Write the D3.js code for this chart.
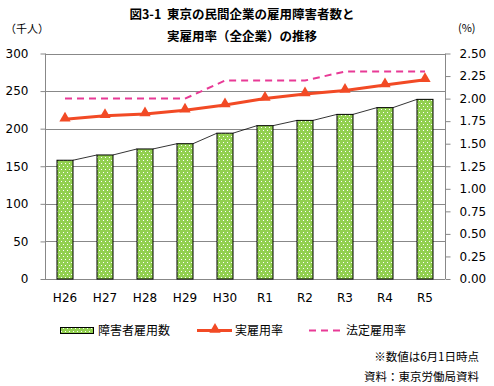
<!DOCTYPE html>
<html><head><meta charset="utf-8">
<script src="https://cdn.jsdelivr.net/npm/d3@7"></script>
<style>
body{margin:0;background:#fff;}
svg{display:block;}
text{font-family:"DejaVu Sans",Verdana,sans-serif;fill:#000;}
.jp{font-family:"Noto Sans CJK JP","Noto Sans",sans-serif;white-space:pre;}
</style></head><body>
<svg id="c" width="494" height="386"></svg>
<script>
const categories = ["H26","H27","H28","H29","H30","R1","R2","R3","R4","R5"];
const employed = [158,165,173,180,194,204,211,219,228,239];
const actualRate = [1.77,1.81,1.83,1.87,1.93,2.00,2.05,2.09,2.15,2.21];
const legalRate = [2.0,2.0,2.0,2.0,2.2,2.2,2.2,2.3,2.3,2.3];
const leftTicks = [0,50,100,150,200,250,300];
const rightTicks = [0,0.25,0.5,0.75,1.0,1.25,1.5,1.75,2.0,2.25,2.5];

const svg = d3.select("#c");
const L=45,R=445,T=53.5,B=279;
const x = d3.scaleBand().domain(categories).range([L,R]);
const yL = d3.scaleLinear().domain([0,300]).range([B,T]);
const yR = d3.scaleLinear().domain([0,2.5]).range([B,T]);

const defs = svg.append("defs");
const pat = defs.append("pattern").attr("id","dots").attr("patternUnits","userSpaceOnUse")
  .attr("width",4).attr("height",6);
pat.append("rect").attr("width",4).attr("height",6).attr("fill","#92D050");
pat.append("rect").attr("x",1).attr("y",1).attr("width",1).attr("height",1).attr("fill","#fff");
pat.append("rect").attr("x",3).attr("y",4).attr("width",1).attr("height",1).attr("fill","#fff");

// gridlines
svg.append("g").selectAll("line").data(leftTicks).join("line")
  .attr("x1",L).attr("x2",R).attr("y1",d=>Math.round(yL(d))+0.5).attr("y2",d=>Math.round(yL(d))+0.5)
  .attr("stroke","#888").attr("stroke-width",1);

// axes
const gl = svg.append("g").attr("transform",`translate(${L+0.5},0)`)
  .call(d3.axisLeft(yL).tickValues(leftTicks).tickSize(5).tickPadding(12).tickFormat(d3.format("d")));
const gr = svg.append("g").attr("transform",`translate(${R+0.5},0)`)
  .call(d3.axisRight(yR).tickValues(rightTicks).tickSize(5).tickPadding(9).tickFormat(d3.format(".2f")));
[gl,gr].forEach(g=>{
  g.select(".domain").attr("stroke","#888").attr("d",`M0,${T}V${B}`);
  g.selectAll(".tick line").attr("stroke","#888");
  g.selectAll(".tick text").attr("font-size","12px").attr("font-family","DejaVu Sans, Verdana, sans-serif").attr("fill","#000");
});
const gx = svg.append("g").attr("transform",`translate(0,${B})`)
  .call(d3.axisBottom(x).tickSize(0).tickPadding(14));
gx.select(".domain").remove();
gx.selectAll(".tick text").attr("font-size","12px").attr("font-family","DejaVu Sans, Verdana, sans-serif").attr("fill","#000");

// bars
const bw = 16;
const bx = d => x(d)+x.bandwidth()/2-bw/2;
svg.append("g").selectAll("rect").data(categories).join("rect")
  .attr("x",d=>bx(d)).attr("width",bw)
  .attr("y",(d,i)=>yL(employed[i])).attr("height",(d,i)=>B-yL(employed[i]))
  .attr("fill","url(#dots)").attr("stroke","#000").attr("stroke-width",1);
// series lines
svg.append("g").selectAll("line").data(categories.slice(1)).join("line")
  .attr("x1",(d,i)=>bx(categories[i])+bw).attr("y1",(d,i)=>yL(employed[i]))
  .attr("x2",d=>bx(d)).attr("y2",(d,i)=>yL(employed[i+1]))
  .attr("stroke","#000").attr("stroke-width",0.8);

const cx = d => x(d)+x.bandwidth()/2;
// legal rate dashed
svg.append("path").datum(legalRate)
  .attr("d",d3.line().x((d,i)=>cx(categories[i])).y(d=>yR(d)))
  .attr("fill","none").attr("stroke","#E83A96").attr("stroke-width",2).attr("stroke-dasharray","7,5");
// actual rate
svg.append("path").datum(actualRate)
  .attr("d",d3.line().x((d,i)=>cx(categories[i])).y(d=>yR(d)))
  .attr("fill","none").attr("stroke","#F24A25").attr("stroke-width",3);
const tri = d3.symbol().type(d3.symbolTriangle).size(55);
svg.append("g").selectAll("path").data(actualRate).join("path")
  .attr("transform",(d,i)=>`translate(${cx(categories[i])},${yR(d)-1})`)
  .attr("d",tri).attr("fill","#F24A25");

// titles
svg.append("text").attr("class","jp").attr("x",242).attr("y",19).attr("text-anchor","middle")
  .attr("font-size","12.5px").attr("font-weight","bold").text("図3-1\u00a0\u00a0東京の民間企業の雇用障害者数と");
svg.append("text").attr("class","jp").attr("x",242).attr("y",41).attr("text-anchor","middle")
  .attr("font-size","12.5px").attr("font-weight","bold").text("実雇用率（全企業）の推移");
svg.append("text").attr("class","jp").attr("x",5).attr("y",33).attr("font-size","11px").text("（千人）");
svg.append("text").attr("class","jp").attr("x",458).attr("y",32).attr("font-size","11px").text("(%)");

// legend
const ly = 330.5;
svg.append("rect").attr("x",60.5).attr("y",327.5).attr("width",33).attr("height",6)
  .attr("fill","url(#dots)").attr("stroke","#000");
svg.append("text").attr("class","jp").attr("x",98).attr("y",ly+4.5).attr("font-size","12px").text("障害者雇用数");
svg.append("line").attr("x1",197).attr("x2",232).attr("y1",ly).attr("y2",ly).attr("stroke","#F24A25").attr("stroke-width",3);
svg.append("path").attr("transform",`translate(215,${ly-1})`).attr("d",tri).attr("fill","#F24A25");
svg.append("text").attr("class","jp").attr("x",235).attr("y",ly+4.5).attr("font-size","12px").text("実雇用率");
svg.append("line").attr("x1",309).attr("x2",343).attr("y1",ly).attr("y2",ly).attr("stroke","#E83A96").attr("stroke-width",2).attr("stroke-dasharray","7,5");
svg.append("text").attr("class","jp").attr("x",346).attr("y",ly+4.5).attr("font-size","12px").text("法定雇用率");

svg.append("text").attr("class","jp").attr("x",479).attr("y",361).attr("text-anchor","end").attr("font-size","11.5px").text("※数値は6月1日時点");
svg.append("text").attr("class","jp").attr("x",479).attr("y",381).attr("text-anchor","end").attr("font-size","11.5px").text("資料：東京労働局資料");
</script></body></html>
